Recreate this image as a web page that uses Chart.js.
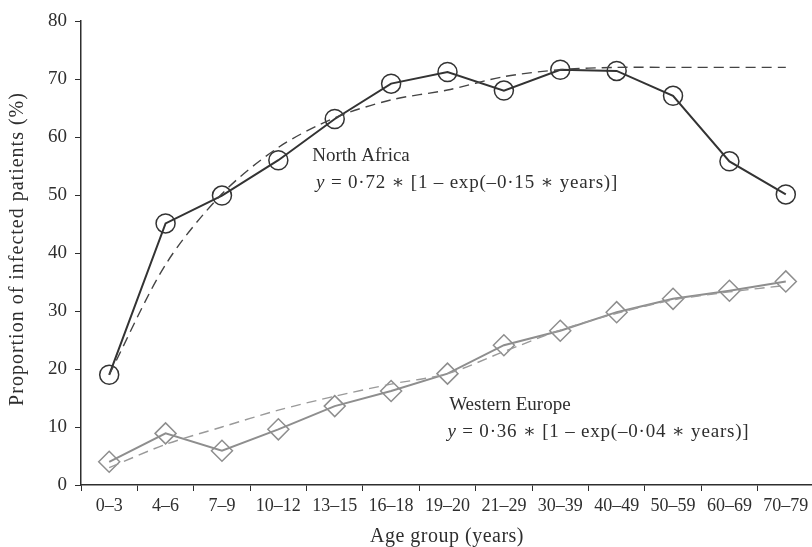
<!DOCTYPE html>
<html>
<head>
<meta charset="utf-8">
<script src="https://cdn.jsdelivr.net/npm/chart.js@4/dist/chart.umd.min.js"></script>
<style>
  html, body { margin: 0; padding: 0; background: #fff; overflow: hidden; }
  #wrap { width: 826px; height: 547px; position: relative; }
  canvas { display: block; }
</style>
</head>
<body>
<div id="wrap"><canvas id="curva"></canvas></div>
<script>
const ageGroups = ["0–3", "4–6", "7–9", "10–12", "13–15", "16–18", "19–20", "21–29", "30–39", "40–49", "50–59", "60–69", "70–79"];
const northAfrica = [19, 45.1, 49.9, 56, 63.1, 69.2, 71.2, 68, 71.6, 71.4, 67.1, 55.8, 50.1];
const northAfricaFit = [19, 38, 50.2, 58.2, 63.3, 66.4, 68.1, 70.4, 71.6, 72, 72, 72, 72];
const westernEurope = [4, 8.9, 5.9, 9.6, 13.6, 16.2, 19.2, 24.1, 26.6, 29.8, 32.1, 33.5, 35.1];
const westernEuropeFit = [3, 7, 10, 12.9, 15.3, 17.4, 19.2, 23, 26.7, 29.6, 31.9, 33.3, 34.4];
const yTicks = [0, 10, 20, 30, 40, 50, 60, 70, 80];

const serif = "'Liberation Serif', 'DejaVu Serif', serif";
const ink = "#2e2e2e";

const xTitle = "Age group (years)";
const yTitle = "Proportion of infected patients (%)";

// etiquetas dentro del gráfico: [título, ecuación, índice x título, índice x ecuación, valor y título, valor y ecuación]
const notas = [
    ["North Africa", " = 0·72 ∗ [1 – exp(–0·15 ∗ years)]", 3.6, 3.67, 56.8, 52.1],
    ["Western Europe", " = 0·36 ∗ [1 – exp(–0·04 ∗ years)]", 6.03, 6.0, 13.8, 9.1],
];

const etiquetas = {
    id: "etiquetas",
    afterDatasetsDraw(chart) {
        const ctx = chart.ctx;
        const x = chart.scales.x, y = chart.scales.y;
        ctx.save();
        ctx.fillStyle = ink;
        ctx.textBaseline = "middle";
        ctx.textAlign = "left";
        notas.forEach(function (n) {
            ctx.letterSpacing = "0px";
            ctx.font = "19px " + serif;
            ctx.fillText(n[0], x.getPixelForValue(n[2]), y.getPixelForValue(n[4]));
            const ex = x.getPixelForValue(n[3]);
            const ey = y.getPixelForValue(n[5]);
            ctx.letterSpacing = "0.8px";
            ctx.font = "italic 19px " + serif;
            ctx.fillText("y", ex, ey);
            const w = ctx.measureText("y").width;
            ctx.font = "19px " + serif;
            ctx.fillText(n[1], ex + w, ey);
        });

        // títulos de los ejes
        ctx.textAlign = "center";
        ctx.font = "20px " + serif;
        ctx.letterSpacing = "0.5px";
        ctx.fillText(xTitle, 447, 537);
        ctx.translate(18, (y.top + y.bottom) / 2 - 4);
        ctx.rotate(-Math.PI / 2);
        ctx.letterSpacing = "1px";
        ctx.fillText(yTitle, 0, 0);
        ctx.restore();
    },
};

new Chart(document.getElementById("curva"), {
    type: "line",
    data: {
        labels: ageGroups,
        datasets: [
            {
                label: "North Africa fit",
                data: northAfricaFit,
                borderColor: "#444",
                borderWidth: 1.4,
                borderDash: [10, 6],
                pointRadius: 0,
                tension: 0.3,
            },
            {
                label: "Western Europe fit",
                data: westernEuropeFit,
                borderColor: "#9a9a9a",
                borderWidth: 1.4,
                borderDash: [10, 6],
                pointRadius: 0,
                tension: 0.3,
            },
            {
                label: "North Africa",
                data: northAfrica,
                borderColor: "#333",
                borderWidth: 2,
                pointStyle: "circle",
                pointRadius: 9.5,
                pointBorderWidth: 1.5,
                pointBorderColor: "#333",
                pointBackgroundColor: "transparent",
            },
            {
                label: "Western Europe",
                data: westernEurope,
                borderColor: "#8e8e8e",
                borderWidth: 2,
                pointStyle: "rectRot",
                pointRadius: 10.5,
                pointBorderWidth: 1.5,
                pointBorderColor: "#8e8e8e",
                pointBackgroundColor: "transparent",
            },
        ],
    },
    options: {
        responsive: true,
        maintainAspectRatio: false,
        animation: false,
        layout: { padding: { top: 21, right: 0, left: 0, bottom: 0 } },
        scales: {
            x: {
                offset: true,
                grid: { offset: true, drawOnChartArea: false, drawTicks: true, tickLength: 6, color: ink },
                border: { color: ink, width: 1.5 },
                ticks: {
                    font: { family: serif, size: 18 },
                    color: ink,
                    padding: 4,
                    maxRotation: 0,
                    autoSkip: false,
                },
                afterFit: function (s) {
                    s.height = 62;
                },
            },
            y: {
                min: 0,
                max: 80,
                afterBuildTicks: function (s) { s.ticks = yTicks.map(function (v) { return { value: v }; }); },
                grid: { drawOnChartArea: false, drawTicks: true, tickLength: 6, color: ink },
                border: { color: ink, width: 1.5 },
                ticks: {
                    font: { family: serif, size: 19 },
                    color: ink,
                    padding: 8,
                },
                afterFit: function (s) { s.width = 81; },
            },
        },
        plugins: {
            legend: { display: false },
            tooltip: { enabled: false },
        },
    },
    plugins: [etiquetas],
});
</script>
</body>
</html>
